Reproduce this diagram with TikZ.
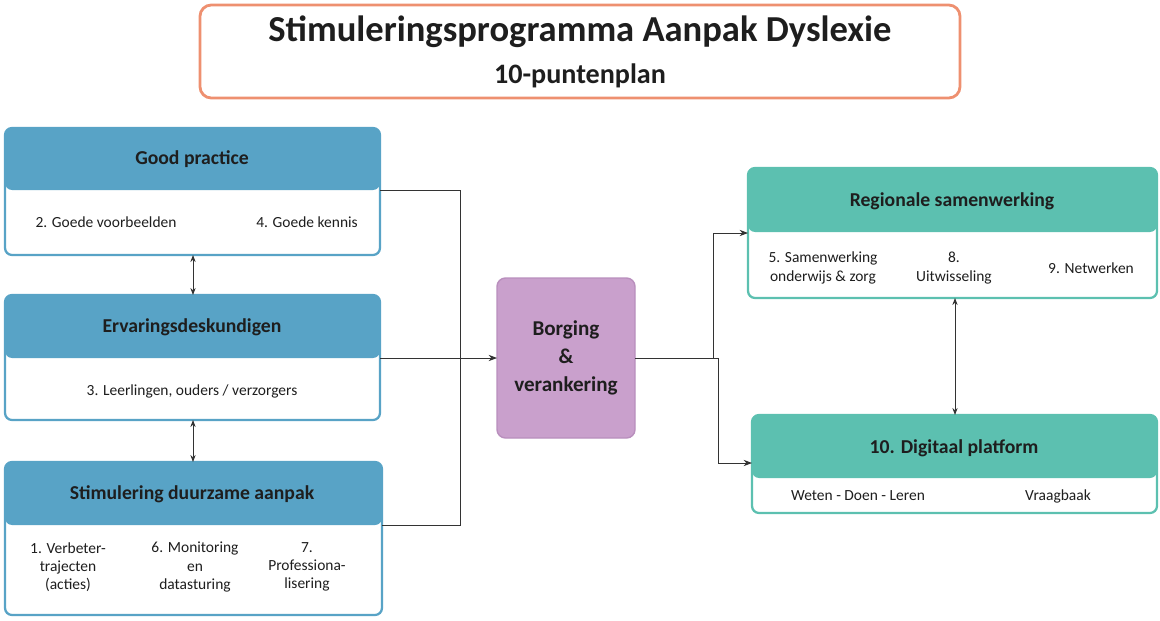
\documentclass[tikz,border=0pt]{standalone}
\usepackage{fontspec}
\setmainfont{Carlito}
\usetikzlibrary{arrows.meta}
\definecolor{bl}{HTML}{58A3C6}
\definecolor{tl}{HTML}{5CC0B0}
\definecolor{pu}{HTML}{C9A0CC}
\definecolor{pub}{HTML}{B98FBD}
\definecolor{or}{HTML}{EE9070}
\definecolor{tx}{HTML}{1E1E1E}
\begin{document}
\begin{tikzpicture}[x=0.025cm,y=-0.025cm,
 body/.style={draw=#1,line width=1.6pt,rounded corners=5pt,fill=white},
 head/.style={fill=#1,rounded corners=5pt},
 htext/.style={font=\bfseries\fontsize{14}{16}\selectfont,text=tx},
 btext/.style={font=\fontsize{11}{13}\selectfont,text=tx,align=center},
 con/.style={draw=black!80,line width=0.6pt},
 arr/.style={con,-{Stealth[length=6pt]}},
 darr/.style={con,{Stealth[length=5pt]}-{Stealth[length=5pt]}}]
\useasboundingbox (0,0) rectangle (1160,620);
% title
\draw[draw=or,line width=2pt,rounded corners=8pt,fill=white] (200,5) rectangle (960,98);
\node[font=\bfseries\fontsize{26}{30}\selectfont,text=tx] (t1) at (580,32) {Stimuleringsprogramma Aanpak Dyslexie};
\node[font=\bfseries\fontsize{20}{24}\selectfont,text=tx] (t2) at (580,76) {10-puntenplan};
% left box 1
\draw[body=bl] (5,128) rectangle (380,255);
\fill[head=bl] (5,128) rectangle (380,190);
\node[htext] (h1) at (192,159) {Good practice};
\node[btext] (b1a) at (106,222) {2. Goede voorbeelden};
\node[btext] (b1b) at (307,222) {4. Goede kennis};
\coordinate (p1) at (380,190);
% left box 2
\draw[body=bl] (5,295) rectangle (380,420);
\fill[head=bl] (5,295) rectangle (380,358);
\node[htext] (h2) at (192,327) {Ervaringsdeskundigen};
\node[btext] (b2) at (192,391) {3. Leerlingen, ouders / verzorgers};
\coordinate (p2) at (380,358);
% left box 3
\draw[body=bl] (5,462) rectangle (382,615);
\fill[head=bl] (5,462) rectangle (382,525);
\node[htext] (h3) at (192,494) {Stimulering duurzame aanpak};
\node[btext] (b3a) at (68,567) {1. Verbeter-\\trajecten\\(acties)};
\node[btext] (b3b) at (195,567) {6. Monitoring\\en\\datasturing};
\node[btext] (b3c) at (307,567) {7.\\Professiona-\\lisering};
\coordinate (p3) at (382,525);
% center
\draw[fill=pu,draw=pub,line width=1pt,rounded corners=6pt] (497,278) rectangle (635,438);
\node[font=\bfseries\fontsize{15}{20}\selectfont,text=tx,align=center] (c) at (566,358) {Borging\\\&\\verankering};
\coordinate (cl) at (497,358);
\coordinate (cr) at (635,358);
% right box 1
\draw[body=tl] (748,168) rectangle (1157,298);
\fill[head=tl] (748,168) rectangle (1157,232);
\node[htext] (r1) at (952,201) {Regionale samenwerking};
\node[btext] (r1a) at (823,268) {5. Samenwerking\\onderwijs \& zorg};
\node[btext] (r1b) at (954,268) {8.\\Uitwisseling};
\node[btext] (r1c) at (1091,268) {9. Netwerken};
\coordinate (q1) at (748,233);
% right box 2
\draw[body=tl] (752,415) rectangle (1157,513);
\fill[head=tl] (752,415) rectangle (1157,478);
\node[htext] (r2) at (954,448) {10. Digitaal platform};
\node[btext] (r2a) at (858,496) {Weten - Doen - Leren};
\node[btext] (r2b) at (1058,496) {Vraagbaak};
\coordinate (q2) at (752,463);
% connectors
\draw[con] (p1) -- (460,190) -- (460,525) -- (p3);
\draw[arr] (p2) -- (cl);
\draw[arr] (cr) -- (713,358) -- (713,233) -- (q1);
\draw[arr] (713,358) -- (718,358) -- (718,463) -- (q2);
\draw[darr] (193,255) -- (193,295);
\draw[darr] (193,420) -- (193,462);
\draw[darr] (955,298) -- (955,415);
\end{tikzpicture}
\end{document}
